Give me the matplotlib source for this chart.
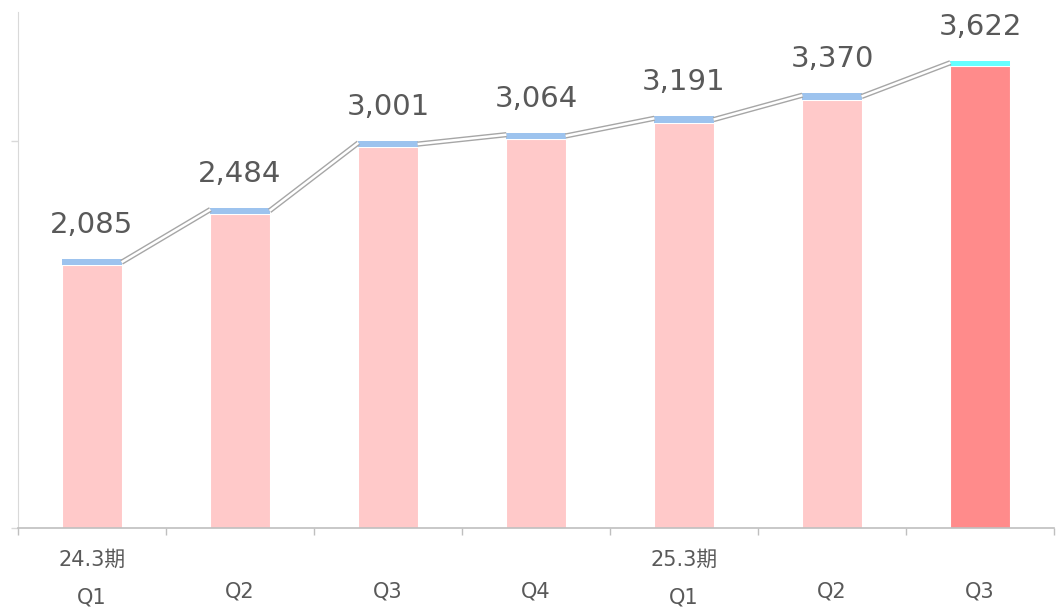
import numpy as np
import matplotlib.pyplot as plt

plt.rcParams['font.family'] = ['DejaVu Sans', 'Noto Sans CJK JP']

quarters = ['Q1', 'Q2', 'Q3', 'Q4', 'Q1', 'Q2', 'Q3']
periods = {0: '24.3期', 4: '25.3期'}
totals = [2085, 2484, 3001, 3064, 3191, 3370, 3622]
top_part = [50, 50, 50, 50, 50, 50, 40]
base_part = [t - p for t, p in zip(totals, top_part)]

base_colors = ['#ffc9c9'] * 6 + ['#ff8b8b']
top_colors = ['#9dc3ee'] * 6 + ['#66ffff']
txt = '#595959'

fig = plt.figure(figsize=(10.56, 6.09), dpi=100)
ax = fig.add_axes([18 / 1056, 81 / 609, 1036 / 1056, 516 / 609])

x = np.arange(len(totals))
w = 0.4
ax.bar(x, base_part, w, color=base_colors, edgecolor='white', linewidth=0.8, zorder=2)
ax.bar(x, top_part, w, bottom=base_part, color=top_colors, linewidth=0, zorder=2)

# double connector line between bar tops
for i in range(len(totals) - 1):
    xs = [x[i] + w / 2, x[i + 1] - w / 2]
    ys = [totals[i] - 25, totals[i + 1] - 15]
    ax.plot(xs, ys, color='#a6a6a6', lw=3.8, solid_capstyle='butt', zorder=3)
    ax.plot(xs, ys, color='white', lw=1.8, solid_capstyle='butt', zorder=4)

for i, t in enumerate(totals):
    ax.annotate(f'{t:,}', (x[i], t), xytext=(0, 26), textcoords='offset pixels',
                ha='center', va='baseline', fontsize=21, color=txt)

for i, q in enumerate(quarters):
    off = -69 if q == 'Q1' else -64
    ax.annotate(q, (x[i], 0), xycoords=('data', 'axes fraction'), xytext=(0, off),
                textcoords='offset pixels', ha='center', va='center', fontsize=15, color=txt)
for i, p in periods.items():
    ax.annotate(p, (x[i], 0), xycoords=('data', 'axes fraction'), xytext=(0, -32),
                textcoords='offset pixels', ha='center', va='center', fontsize=15, color=txt)

ax.set_xlim(-0.5, len(totals) - 0.5)
ax.set_ylim(0, 4000)
ax.set_yticks([0, 3000])
ax.set_yticklabels([])
ax.set_xticks([])
ax.set_xticks(np.arange(-0.5, len(totals)), minor=True)
ax.tick_params(axis='x', which='minor', length=5, color='#bfbfbf', width=1)
ax.tick_params(axis='y', length=5, color='#d9d9d9', width=1)

for s in ['top', 'right']:
    ax.spines[s].set_visible(False)
ax.spines['left'].set_color('#d9d9d9')
ax.spines['bottom'].set_color('#bfbfbf')
ax.spines['bottom'].set_linewidth(1.2)

fig.savefig('out.png', dpi=100)
